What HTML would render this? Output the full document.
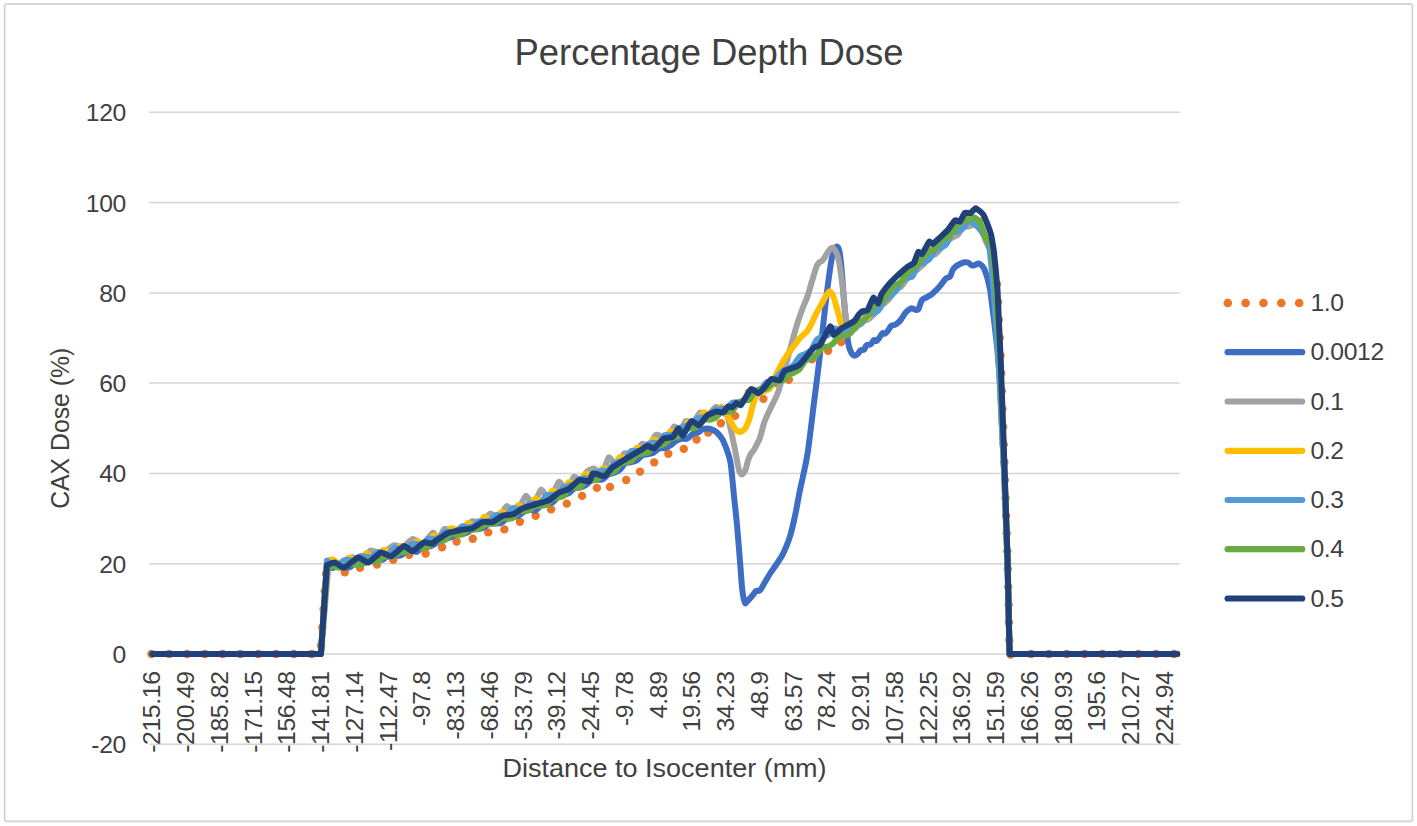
<!DOCTYPE html>
<html><head><meta charset="utf-8"><title>Percentage Depth Dose</title>
<style>html,body{margin:0;padding:0;background:#fff;}svg{display:block;}text{font-family:"Liberation Sans",sans-serif;fill:#404040;}</style></head>
<body>
<svg width="1417" height="826" viewBox="0 0 1417 826">
<rect x="0" y="0" width="1417" height="826" fill="#ffffff"/>
<rect x="4.6" y="4.2" width="1407.8" height="817.2" rx="1.8" ry="1.8" fill="#fff" stroke="#d2d2d2" stroke-width="1.7"/>
<line x1="149.2" y1="112.3" x2="1179.6" y2="112.3" stroke="#d4d4d4" stroke-width="1.5"/>
<line x1="149.2" y1="202.6" x2="1179.6" y2="202.6" stroke="#d4d4d4" stroke-width="1.5"/>
<line x1="149.2" y1="292.9" x2="1179.6" y2="292.9" stroke="#d4d4d4" stroke-width="1.5"/>
<line x1="149.2" y1="383.1" x2="1179.6" y2="383.1" stroke="#d4d4d4" stroke-width="1.5"/>
<line x1="149.2" y1="473.4" x2="1179.6" y2="473.4" stroke="#d4d4d4" stroke-width="1.5"/>
<line x1="149.2" y1="563.7" x2="1179.6" y2="563.7" stroke="#d4d4d4" stroke-width="1.5"/>
<line x1="149.2" y1="654.0" x2="1179.6" y2="654.0" stroke="#d4d4d4" stroke-width="1.5"/>
<line x1="149.2" y1="744.3" x2="1179.6" y2="744.3" stroke="#d4d4d4" stroke-width="1.5"/>
<text x="709" y="64.8" font-size="36.6" fill="#3a3a3a" text-anchor="middle" textLength="389" lengthAdjust="spacingAndGlyphs">Percentage Depth Dose</text>
<text x="126.0" y="121.2" font-size="24.7" letter-spacing="-0.3" text-anchor="end">120</text>
<text x="126.0" y="211.5" font-size="24.7" letter-spacing="-0.3" text-anchor="end">100</text>
<text x="126.0" y="301.8" font-size="24.7" letter-spacing="-0.3" text-anchor="end">80</text>
<text x="126.0" y="392.0" font-size="24.7" letter-spacing="-0.3" text-anchor="end">60</text>
<text x="126.0" y="482.3" font-size="24.7" letter-spacing="-0.3" text-anchor="end">40</text>
<text x="126.0" y="572.6" font-size="24.7" letter-spacing="-0.3" text-anchor="end">20</text>
<text x="126.0" y="662.9" font-size="24.7" letter-spacing="-0.3" text-anchor="end">0</text>
<text x="126.0" y="753.2" font-size="24.7" letter-spacing="-0.3" text-anchor="end">-20</text>
<text transform="translate(160.3 671.4) rotate(-90)" font-size="24.7" letter-spacing="-0.33" text-anchor="end">-215.16</text>
<text transform="translate(194.1 671.4) rotate(-90)" font-size="24.7" letter-spacing="-0.33" text-anchor="end">-200.49</text>
<text transform="translate(227.8 671.4) rotate(-90)" font-size="24.7" letter-spacing="-0.33" text-anchor="end">-185.82</text>
<text transform="translate(261.6 671.4) rotate(-90)" font-size="24.7" letter-spacing="-0.33" text-anchor="end">-171.15</text>
<text transform="translate(295.3 671.4) rotate(-90)" font-size="24.7" letter-spacing="-0.33" text-anchor="end">-156.48</text>
<text transform="translate(329.1 671.4) rotate(-90)" font-size="24.7" letter-spacing="-0.33" text-anchor="end">-141.81</text>
<text transform="translate(362.8 671.4) rotate(-90)" font-size="24.7" letter-spacing="-0.33" text-anchor="end">-127.14</text>
<text transform="translate(396.6 671.4) rotate(-90)" font-size="24.7" letter-spacing="-0.33" text-anchor="end">-112.47</text>
<text transform="translate(430.3 671.4) rotate(-90)" font-size="24.7" letter-spacing="-0.33" text-anchor="end">-97.8</text>
<text transform="translate(464.1 671.4) rotate(-90)" font-size="24.7" letter-spacing="-0.33" text-anchor="end">-83.13</text>
<text transform="translate(497.8 671.4) rotate(-90)" font-size="24.7" letter-spacing="-0.33" text-anchor="end">-68.46</text>
<text transform="translate(531.6 671.4) rotate(-90)" font-size="24.7" letter-spacing="-0.33" text-anchor="end">-53.79</text>
<text transform="translate(565.4 671.4) rotate(-90)" font-size="24.7" letter-spacing="-0.33" text-anchor="end">-39.12</text>
<text transform="translate(599.1 671.4) rotate(-90)" font-size="24.7" letter-spacing="-0.33" text-anchor="end">-24.45</text>
<text transform="translate(632.9 671.4) rotate(-90)" font-size="24.7" letter-spacing="-0.33" text-anchor="end">-9.78</text>
<text transform="translate(666.6 671.4) rotate(-90)" font-size="24.7" letter-spacing="-0.33" text-anchor="end">4.89</text>
<text transform="translate(700.4 671.4) rotate(-90)" font-size="24.7" letter-spacing="-0.33" text-anchor="end">19.56</text>
<text transform="translate(734.1 671.4) rotate(-90)" font-size="24.7" letter-spacing="-0.33" text-anchor="end">34.23</text>
<text transform="translate(767.9 671.4) rotate(-90)" font-size="24.7" letter-spacing="-0.33" text-anchor="end">48.9</text>
<text transform="translate(801.6 671.4) rotate(-90)" font-size="24.7" letter-spacing="-0.33" text-anchor="end">63.57</text>
<text transform="translate(835.4 671.4) rotate(-90)" font-size="24.7" letter-spacing="-0.33" text-anchor="end">78.24</text>
<text transform="translate(869.1 671.4) rotate(-90)" font-size="24.7" letter-spacing="-0.33" text-anchor="end">92.91</text>
<text transform="translate(902.9 671.4) rotate(-90)" font-size="24.7" letter-spacing="-0.33" text-anchor="end">107.58</text>
<text transform="translate(936.6 671.4) rotate(-90)" font-size="24.7" letter-spacing="-0.33" text-anchor="end">122.25</text>
<text transform="translate(970.4 671.4) rotate(-90)" font-size="24.7" letter-spacing="-0.33" text-anchor="end">136.92</text>
<text transform="translate(1004.1 671.4) rotate(-90)" font-size="24.7" letter-spacing="-0.33" text-anchor="end">151.59</text>
<text transform="translate(1037.9 671.4) rotate(-90)" font-size="24.7" letter-spacing="-0.33" text-anchor="end">166.26</text>
<text transform="translate(1071.6 671.4) rotate(-90)" font-size="24.7" letter-spacing="-0.33" text-anchor="end">180.93</text>
<text transform="translate(1105.4 671.4) rotate(-90)" font-size="24.7" letter-spacing="-0.33" text-anchor="end">195.6</text>
<text transform="translate(1139.1 671.4) rotate(-90)" font-size="24.7" letter-spacing="-0.33" text-anchor="end">210.27</text>
<text transform="translate(1172.9 671.4) rotate(-90)" font-size="24.7" letter-spacing="-0.33" text-anchor="end">224.94</text>
<text x="664.6" y="777" font-size="25.4" text-anchor="middle" textLength="324" lengthAdjust="spacingAndGlyphs">Distance to Isocenter (mm)</text>
<text transform="translate(69.0 428.3) rotate(-90)" font-size="25.4" text-anchor="middle" textLength="161" lengthAdjust="spacingAndGlyphs">CAX Dose (%)</text>
<g fill="#EC7628"><circle cx="151.4" cy="654.0" r="4.20"/><circle cx="169.2" cy="654.0" r="4.20"/><circle cx="187.0" cy="654.0" r="4.20"/><circle cx="204.8" cy="654.0" r="4.20"/><circle cx="222.6" cy="654.0" r="4.20"/><circle cx="240.4" cy="654.0" r="4.20"/><circle cx="258.2" cy="654.0" r="4.20"/><circle cx="276.0" cy="654.0" r="4.20"/><circle cx="293.8" cy="654.0" r="4.20"/><circle cx="311.6" cy="654.0" r="4.20"/><circle cx="321.1" cy="645.5" r="4.20"/><circle cx="322.3" cy="627.4" r="4.20"/><circle cx="323.6" cy="609.3" r="4.20"/><circle cx="324.8" cy="591.2" r="4.20"/><circle cx="326.0" cy="573.9" r="4.20"/><circle cx="344.8" cy="572.4" r="4.20"/><circle cx="360.0" cy="567.8" r="4.20"/><circle cx="377.0" cy="564.6" r="4.20"/><circle cx="393.2" cy="559.9" r="4.20"/><circle cx="409.1" cy="554.8" r="4.20"/><circle cx="425.6" cy="553.5" r="4.20"/><circle cx="442.1" cy="547.3" r="4.20"/><circle cx="456.6" cy="541.5" r="4.20"/><circle cx="472.8" cy="538.7" r="4.20"/><circle cx="488.2" cy="532.4" r="4.20"/><circle cx="504.4" cy="529.4" r="4.20"/><circle cx="519.9" cy="521.8" r="4.20"/><circle cx="535.6" cy="515.8" r="4.20"/><circle cx="551.1" cy="509.4" r="4.20"/><circle cx="566.8" cy="503.6" r="4.20"/><circle cx="582.1" cy="495.9" r="4.20"/><circle cx="596.9" cy="487.9" r="4.20"/><circle cx="610.0" cy="486.9" r="4.20"/><circle cx="626.2" cy="480.0" r="4.20"/><circle cx="640.0" cy="471.6" r="4.20"/><circle cx="654.2" cy="462.4" r="4.20"/><circle cx="668.3" cy="453.7" r="4.20"/><circle cx="683.8" cy="448.9" r="4.20"/><circle cx="696.6" cy="439.5" r="4.20"/><circle cx="708.2" cy="432.6" r="4.20"/><circle cx="720.9" cy="423.2" r="4.20"/><circle cx="735.1" cy="415.9" r="4.20"/><circle cx="749.0" cy="392.5" r="4.20"/><circle cx="763.4" cy="398.9" r="4.20"/><circle cx="776.0" cy="383.0" r="4.20"/><circle cx="788.9" cy="379.7" r="4.20"/><circle cx="800.0" cy="363.5" r="4.20"/><circle cx="812.1" cy="359.4" r="4.20"/><circle cx="828.1" cy="350.7" r="4.20"/><circle cx="841.2" cy="342.0" r="4.20"/><circle cx="854.0" cy="324.6" r="4.20"/><circle cx="866.5" cy="313.9" r="4.20"/><circle cx="879.0" cy="301.3" r="4.20"/><circle cx="891.5" cy="287.8" r="4.20"/><circle cx="904.0" cy="275.1" r="4.20"/><circle cx="916.5" cy="262.5" r="4.20"/><circle cx="929.0" cy="250.7" r="4.20"/><circle cx="941.5" cy="239.9" r="4.20"/><circle cx="954.0" cy="229.1" r="4.20"/><circle cx="966.5" cy="219.9" r="4.20"/><circle cx="979.0" cy="221.5" r="4.20"/><circle cx="1009.3" cy="640.3" r="4.20"/><circle cx="1008.9" cy="622.5" r="4.20"/><circle cx="1008.6" cy="604.7" r="4.20"/><circle cx="1008.2" cy="586.9" r="4.20"/><circle cx="1007.8" cy="569.1" r="4.20"/><circle cx="1007.3" cy="551.3" r="4.20"/><circle cx="1006.7" cy="533.5" r="4.20"/><circle cx="1006.1" cy="515.7" r="4.20"/><circle cx="1005.5" cy="497.9" r="4.20"/><circle cx="1004.9" cy="480.1" r="4.20"/><circle cx="1004.3" cy="462.3" r="4.20"/><circle cx="1003.7" cy="444.5" r="4.20"/><circle cx="1003.1" cy="426.7" r="4.20"/><circle cx="1002.4" cy="408.9" r="4.20"/><circle cx="1001.8" cy="391.1" r="4.20"/><circle cx="1001.2" cy="373.3" r="4.20"/><circle cx="1000.5" cy="355.5" r="4.20"/><circle cx="999.7" cy="337.7" r="4.20"/><circle cx="998.9" cy="319.9" r="4.20"/><circle cx="998.1" cy="302.1" r="4.20"/><circle cx="997.0" cy="284.3" r="4.20"/><circle cx="1010.6" cy="654.6" r="4.20"/><circle cx="1031.0" cy="654.0" r="4.20"/><circle cx="1048.9" cy="654.0" r="4.20"/><circle cx="1066.7" cy="654.0" r="4.20"/><circle cx="1084.6" cy="654.0" r="4.20"/><circle cx="1102.5" cy="654.0" r="4.20"/><circle cx="1120.3" cy="654.0" r="4.20"/><circle cx="1138.2" cy="654.0" r="4.20"/><circle cx="1156.1" cy="654.0" r="4.20"/><circle cx="1174.0" cy="654.0" r="4.20"/></g>
<path d="M152.3 654.0L320.9 654.0L326.9 566.5C327.8 566.7 330.6 568.3 332.5 568.1C334.4 567.9 336.3 565.4 338.1 565.2C340.0 564.9 341.9 566.2 343.8 566.6C345.7 567.0 347.5 568.0 349.4 567.4C351.3 566.9 353.2 564.0 355.0 563.3C356.9 562.6 358.8 563.6 360.7 563.5C362.5 563.3 364.4 563.2 366.3 562.4C368.2 561.6 370.1 559.1 371.9 558.6C373.8 558.1 375.7 559.2 377.6 559.4C379.4 559.5 381.3 560.3 383.2 559.5C385.1 558.7 386.9 555.3 388.8 554.6C390.7 553.9 392.6 555.1 394.5 555.3C396.3 555.5 398.2 556.2 400.1 555.7C402.0 555.1 403.8 552.9 405.7 551.9C407.6 551.0 409.5 549.8 411.3 549.8C413.2 549.8 415.1 552.4 417.0 551.9C418.9 551.3 420.7 547.4 422.6 546.6C424.5 545.8 426.4 547.2 428.2 546.9C430.1 546.6 432.0 545.7 433.9 544.7C435.8 543.6 437.6 541.3 439.5 540.4C441.4 539.5 443.3 539.6 445.1 539.0C447.0 538.5 448.9 538.1 450.8 537.3C452.6 536.5 454.5 534.8 456.4 534.3C458.3 533.8 460.2 534.4 462.0 534.1C463.9 533.8 465.8 533.3 467.7 532.4C469.5 531.5 471.4 529.2 473.3 528.6C475.2 528.1 477.0 529.4 478.9 529.1C480.8 528.9 482.7 528.3 484.6 527.2C486.4 526.1 488.3 523.0 490.2 522.4C492.1 521.7 493.9 523.4 495.8 523.5C497.7 523.5 499.6 523.7 501.4 522.8C503.3 522.0 505.2 519.4 507.1 518.5C509.0 517.5 510.8 517.4 512.7 516.9C514.6 516.5 516.5 516.7 518.3 515.8C520.2 515.0 522.1 512.8 524.0 511.8C525.8 510.8 527.7 509.9 529.6 509.7C531.5 509.5 533.4 511.3 535.2 510.6C537.1 509.9 539.0 506.9 540.9 505.7C542.7 504.4 544.6 503.6 546.5 503.1C548.4 502.7 550.3 503.8 552.1 502.9C554.0 501.9 555.9 498.6 557.8 497.2C559.6 495.9 561.5 495.4 563.4 494.8C565.3 494.1 567.1 494.3 569.0 493.2C570.9 492.1 572.8 489.1 574.7 488.2C576.5 487.2 578.4 488.1 580.3 487.5C582.2 487.0 584.0 486.1 585.9 484.9C587.8 483.7 589.7 481.0 591.5 480.2C593.4 479.3 595.3 480.0 597.2 479.8C599.1 479.7 600.9 480.1 602.8 479.2C604.7 478.3 606.6 475.6 608.4 474.5C610.3 473.5 612.2 473.6 614.1 472.8C615.9 472.0 617.8 471.3 619.7 469.8C621.6 468.2 623.5 464.6 625.3 463.3C627.2 462.1 629.1 462.8 631.0 462.3C632.8 461.8 634.7 461.6 636.6 460.5C638.5 459.3 640.3 456.4 642.2 455.3C644.1 454.3 646.0 454.6 647.9 454.1C649.7 453.7 651.6 453.6 653.5 452.7C655.4 451.8 657.2 449.3 659.1 448.5C661.0 447.8 662.9 448.7 664.8 448.2C666.6 447.6 668.5 446.6 670.4 445.4C672.3 444.1 674.1 441.9 676.0 440.8C677.9 439.7 679.8 439.1 681.6 438.7C683.5 438.4 685.4 439.4 687.3 438.6C689.2 437.8 691.0 434.9 692.9 433.9C694.8 432.8 697.1 433.0 698.5 432.3C700.0 431.6 700.2 430.3 701.7 429.7C703.2 429.1 705.8 428.6 707.5 428.6C709.2 428.6 710.5 429.1 712.0 429.6C713.5 430.2 714.9 430.8 716.2 431.9C717.5 433.0 718.8 434.4 720.0 436.0C721.2 437.6 722.2 438.6 723.5 441.4C724.8 444.2 726.7 449.1 727.9 453.0C729.1 456.9 729.8 457.4 730.8 464.6C731.8 471.8 733.0 485.9 734.0 496.0C735.0 506.1 736.0 514.3 737.0 525.0C738.0 535.7 739.0 549.3 739.9 560.0C740.8 570.7 741.4 581.9 742.2 589.0C743.0 596.1 743.9 600.6 744.8 602.6C745.7 604.6 746.1 602.3 747.5 601.0C748.9 599.7 751.5 596.7 752.9 595.0C754.3 593.3 754.8 591.8 756.0 591.0C757.2 590.2 758.7 591.7 760.2 590.2C761.7 588.7 763.3 584.9 765.0 582.0C766.7 579.1 768.6 575.8 770.4 573.0C772.2 570.2 774.1 567.9 776.0 565.0C777.9 562.1 780.2 558.9 782.0 555.7C783.8 552.5 785.0 549.6 786.5 546.0C788.0 542.4 789.3 539.0 790.7 534.0C792.1 529.0 793.5 522.8 795.0 516.0C796.5 509.2 798.0 500.0 799.4 493.0C800.8 486.0 802.1 480.8 803.5 474.0C804.9 467.2 806.1 463.4 807.8 452.0C809.5 440.6 811.7 421.3 813.6 405.9C815.5 390.5 817.5 375.9 819.4 359.4C821.3 342.9 823.3 323.1 825.2 307.0C827.1 290.9 829.5 272.1 831.0 262.7C832.5 253.3 833.5 253.2 834.5 250.5C835.5 247.8 836.4 246.3 837.2 246.6C838.1 246.8 838.8 247.4 839.6 252.0C840.4 256.6 841.3 265.7 842.0 273.9C842.7 282.1 843.4 293.9 844.0 301.3C844.6 308.7 844.9 311.3 845.6 318.0C846.3 324.7 847.2 336.2 848.0 341.7C848.8 347.2 849.5 348.7 850.5 351.0C851.5 353.3 852.7 355.1 853.9 355.6C855.1 356.1 856.4 355.1 857.5 354.2C858.6 353.3 859.6 351.0 860.7 350.2C861.8 349.4 863.0 350.4 864.0 349.6C865.0 348.8 865.4 346.1 866.5 345.2C867.6 344.3 869.5 345.1 870.8 344.2C872.0 343.3 873.0 340.5 874.0 340.0C875.0 339.5 875.6 341.4 876.5 341.0C877.4 340.6 878.3 339.1 879.3 337.8C880.3 336.5 881.5 333.9 882.5 333.2C883.5 332.5 884.2 334.1 885.2 333.6C886.2 333.1 887.3 331.5 888.3 330.2C889.3 328.9 890.0 326.9 891.0 326.0C892.0 325.1 893.4 325.5 894.6 325.0C895.8 324.5 897.0 323.7 898.0 322.8C899.0 321.9 900.0 320.8 900.9 319.6C901.8 318.4 902.8 316.8 903.6 315.6C904.5 314.4 904.8 313.4 906.0 312.2C907.2 311.0 909.5 308.7 911.0 308.3C912.5 307.9 913.8 309.5 915.0 309.6C916.2 309.8 917.1 310.8 918.3 309.2C919.4 307.6 920.6 302.2 921.9 300.3C923.2 298.4 924.4 298.6 926.0 297.6C927.6 296.6 929.7 295.7 931.4 294.5C933.1 293.3 934.5 291.6 936.0 290.2C937.5 288.8 938.5 287.8 940.1 285.8C941.8 283.9 944.2 280.0 945.9 278.5C947.5 277.0 948.9 277.9 950.0 276.6C951.1 275.3 951.7 272.1 952.5 270.5C953.3 268.9 953.8 268.1 955.0 267.1C956.2 266.1 957.9 265.1 959.5 264.3C961.1 263.5 963.3 262.6 964.7 262.3C966.1 262.0 966.8 262.1 968.0 262.6C969.2 263.1 970.8 265.1 972.0 265.5C973.2 265.9 974.1 265.1 975.2 264.8C976.3 264.5 977.5 263.5 978.5 263.6C979.5 263.7 980.5 264.3 981.5 265.2C982.5 266.1 983.4 267.3 984.2 268.9C985.0 270.5 985.8 273.2 986.4 275.0C987.0 276.8 987.2 277.1 987.8 279.6C988.4 282.1 989.8 288.3 990.2 290.0L993.8 318.0L997.4 349.4L999.8 380.0L1004.0 470.0L1007.4 560.0L1009.5 654.0L1177.2 654.0" fill="none" stroke="#3D6DC4" stroke-width="6.0" stroke-linecap="round" stroke-linejoin="round"/>
<path d="M152.3 654.0L320.9 654.0L328.9 560.3C330.0 560.9 338.1 566.4 340.4 566.1C342.6 565.8 349.7 557.9 351.8 557.3C353.9 556.7 359.4 560.3 361.3 559.6C363.2 558.9 368.7 551.1 370.8 550.5C372.9 549.9 380.0 553.9 382.2 553.4C384.5 552.9 391.6 546.0 393.7 545.4C395.8 544.8 401.3 547.7 403.2 547.1C405.1 546.4 410.7 539.3 412.7 539.0C414.7 538.7 420.9 544.4 422.9 543.8C424.9 543.2 431.5 533.1 433.1 532.7C434.7 532.3 437.7 539.7 438.8 539.3C439.9 539.0 442.5 529.7 444.5 528.9C446.5 528.1 455.7 531.8 458.4 531.1C461.2 530.3 470.1 522.0 472.4 521.2C474.7 520.4 479.5 524.1 481.3 523.3C483.1 522.5 488.5 514.0 490.2 513.6C491.9 513.2 496.8 519.7 498.4 518.9C500.1 518.2 504.9 506.6 506.7 506.0C508.5 505.4 514.3 513.9 516.2 512.9C518.2 511.8 524.1 496.5 525.8 495.8C527.5 495.1 531.9 506.1 533.4 505.5C534.9 504.8 539.4 490.0 541.0 489.5C542.6 489.0 548.1 500.7 549.9 500.0C551.7 499.2 557.1 482.9 558.8 481.9C560.5 480.9 564.9 490.9 566.5 490.3C568.0 489.8 572.7 477.8 574.1 476.8C575.5 475.8 579.2 481.2 580.5 480.7C581.7 480.2 585.4 472.9 586.8 471.7C588.2 470.5 592.9 468.2 594.4 468.6C595.9 469.0 600.1 477.1 601.5 476.0C603.0 474.8 607.2 458.6 608.7 457.5C610.2 456.4 615.0 465.7 616.5 465.3C618.1 464.9 622.7 454.3 624.4 453.3C626.1 452.3 631.6 455.9 633.3 454.9C635.1 454.0 640.8 444.5 642.3 443.7C643.8 442.9 647.4 447.3 648.6 446.6C649.9 445.8 654.1 437.1 655.0 435.9C655.9 434.7 657.0 434.7 658.1 435.0C659.2 435.3 664.6 439.5 666.2 438.6C667.9 437.7 673.0 427.1 674.4 426.4C675.8 425.7 678.9 431.9 680.0 431.4C681.2 430.9 684.4 422.1 685.7 421.2C687.0 420.3 691.5 423.2 693.0 422.4C694.4 421.5 698.7 413.2 700.2 412.5C701.7 411.8 706.6 416.0 708.2 415.4C709.8 414.8 714.5 406.8 716.2 406.7C717.9 406.6 724.1 413.2 725.3 414.2C726.5 415.2 727.4 414.9 727.9 416.5C728.4 418.1 730.3 427.3 730.8 429.7C731.3 432.1 732.6 438.0 733.0 440.0C733.4 442.0 734.5 447.1 735.1 450.0C735.7 452.9 738.0 466.5 738.7 469.0C739.4 471.5 741.0 474.5 741.7 474.6C742.4 474.7 744.6 471.9 745.3 470.4C745.9 468.9 747.6 461.7 748.2 460.0C748.8 458.3 750.4 454.6 751.0 453.6C751.6 452.6 753.4 451.0 754.0 450.0C754.6 449.0 756.4 445.1 757.0 444.0C757.6 442.9 759.1 440.6 759.8 438.5C760.5 436.4 763.2 425.4 764.2 422.5C765.2 419.6 769.0 411.6 770.0 409.4C771.0 407.2 773.4 402.6 774.3 400.7C775.2 398.8 777.8 393.0 778.7 390.4C779.6 387.8 782.1 378.1 783.0 375.0C783.9 371.9 786.5 362.5 787.4 359.4C788.2 356.3 790.6 347.2 791.5 344.0C792.4 340.8 795.1 330.9 796.1 327.5C797.1 324.1 800.8 313.2 802.0 310.0C803.2 306.8 806.8 298.4 807.8 295.5C808.8 292.6 811.1 283.9 812.0 281.0C812.9 278.1 815.8 268.4 816.5 266.5C817.2 264.6 818.9 262.8 819.5 262.2C820.1 261.6 821.7 261.3 822.3 260.7C822.9 260.1 824.9 256.9 825.5 256.0C826.1 255.1 827.5 252.7 828.0 252.0C828.5 251.3 830.0 249.0 830.5 248.6C831.0 248.2 832.2 247.6 832.7 247.8C833.2 248.0 834.7 249.5 835.3 250.6C835.9 251.7 837.8 256.5 838.3 258.5C838.8 260.5 840.1 268.2 840.5 271.0C840.9 273.8 842.2 283.6 842.6 286.8C843.0 290.0 844.1 299.8 844.4 303.0C844.7 306.2 845.6 316.2 846.0 318.8C846.4 321.4 847.5 327.7 848.0 329.0C848.5 330.3 850.2 331.6 851.0 331.5C851.8 331.4 855.1 328.9 856.2 327.9C857.3 326.8 860.7 321.5 861.8 320.7C863.0 319.9 866.3 320.3 867.5 319.7C868.6 319.2 872.0 316.3 873.1 315.2C874.2 314.0 877.6 309.6 878.7 308.4C879.9 307.2 883.2 304.3 884.4 303.2C885.5 302.2 888.9 299.3 890.0 297.9C891.1 296.6 894.5 290.9 895.6 289.7C896.8 288.6 900.1 287.7 901.3 286.6C902.4 285.5 905.8 280.0 906.9 278.7C908.0 277.4 911.4 274.2 912.5 273.2C913.6 272.2 917.0 269.8 918.2 268.9C919.3 267.9 922.7 265.3 923.8 264.0C924.9 262.7 928.3 256.8 929.4 255.8C930.5 254.9 933.9 255.1 935.0 254.4C936.2 253.7 939.6 249.8 940.7 248.5C941.8 247.3 945.2 243.1 946.3 242.0C947.4 241.0 950.8 238.5 951.9 237.8C953.1 237.1 956.4 236.0 957.6 235.0C958.7 234.0 962.1 228.5 963.2 227.7C964.3 226.8 967.7 226.6 968.8 226.3C970.0 226.0 973.3 224.4 974.5 224.5C975.6 224.6 979.0 225.5 980.1 227.1C981.2 228.8 985.2 239.8 985.7 241.2L991.0 250.0L994.4 290.0L999.3 360.0L1004.2 470.0L1007.5 560.0L1009.6 654.0L1177.2 654.0" fill="none" stroke="#A2A2A2" stroke-width="6.0" stroke-linecap="round" stroke-linejoin="round"/>
<path d="M152.3 654.0L320.9 654.0L326.9 564.8C327.4 564.2 331.4 559.4 332.5 559.2C333.6 559.1 337.0 562.8 338.1 563.1C339.3 563.4 342.6 562.4 343.8 561.9C344.9 561.3 348.3 557.7 349.4 557.6C350.5 557.5 353.9 560.8 355.0 561.0C356.2 561.2 359.5 560.0 360.7 559.2C361.8 558.4 365.2 553.4 366.3 553.1C367.4 552.9 370.8 556.4 371.9 556.6C373.1 556.9 376.4 556.3 377.6 555.6C378.7 554.9 382.1 550.4 383.2 550.0C384.3 549.5 387.7 551.2 388.8 551.3C390.0 551.5 393.3 552.1 394.5 551.5C395.6 551.0 399.0 546.5 400.1 546.1C401.2 545.6 404.6 547.2 405.7 547.3C406.8 547.3 410.2 547.5 411.3 546.9C412.5 546.3 415.9 541.7 417.0 541.3C418.1 541.0 421.5 543.3 422.6 543.3C423.7 543.3 427.1 542.5 428.2 541.7C429.4 540.9 432.7 536.0 433.9 535.5C435.0 535.0 438.4 536.7 439.5 536.5C440.6 536.4 444.0 535.2 445.1 534.4C446.3 533.5 449.6 528.8 450.8 528.3C451.9 527.8 455.3 529.4 456.4 529.5C457.5 529.7 460.9 530.4 462.0 529.7C463.2 529.1 466.5 523.5 467.7 523.1C468.8 522.7 472.2 525.7 473.3 525.8C474.4 526.0 477.8 525.4 478.9 524.5C480.0 523.6 483.4 517.1 484.6 516.6C485.7 516.2 489.1 519.7 490.2 519.7C491.3 519.8 494.7 518.0 495.8 517.2C496.9 516.5 500.3 512.5 501.4 512.1C502.6 511.8 506.0 513.8 507.1 513.7C508.2 513.6 511.6 512.1 512.7 511.2C513.8 510.4 517.2 505.2 518.3 504.9C519.5 504.6 522.8 507.9 524.0 508.0C525.1 508.0 528.5 506.2 529.6 505.2C530.7 504.3 534.1 498.9 535.2 498.6C536.4 498.2 539.7 501.5 540.9 501.6C542.0 501.7 545.4 500.8 546.5 499.8C547.6 498.7 551.0 491.6 552.1 490.9C553.3 490.2 556.6 492.9 557.8 492.9C558.9 492.9 562.3 491.7 563.4 490.6C564.5 489.5 567.9 482.6 569.0 482.0C570.1 481.3 573.5 484.1 574.7 483.9C575.8 483.8 579.2 481.6 580.3 480.6C581.4 479.6 584.8 474.0 585.9 473.7C587.0 473.3 590.4 476.8 591.5 476.9C592.7 477.0 596.0 475.2 597.2 474.3C598.3 473.5 601.7 468.7 602.8 468.2C603.9 467.7 607.3 469.4 608.4 469.3C609.6 469.2 612.9 468.4 614.1 467.2C615.2 466.0 618.6 458.0 619.7 457.1C620.8 456.3 624.2 458.9 625.3 458.6C626.5 458.4 629.8 455.9 631.0 454.9C632.1 453.8 635.5 448.4 636.6 447.8C637.7 447.2 641.1 448.9 642.2 448.8C643.4 448.7 646.7 447.4 647.9 446.5C649.0 445.5 652.4 439.9 653.5 439.4C654.6 438.9 658.0 441.4 659.1 441.3C660.2 441.2 663.6 439.9 664.8 438.9C665.9 437.9 669.3 431.9 670.4 431.3C671.5 430.6 674.9 432.2 676.0 432.1C677.1 432.0 680.5 431.2 681.6 430.2C682.8 429.2 686.1 422.8 687.3 422.2C688.4 421.6 691.8 424.7 692.9 424.5C694.0 424.2 697.4 421.0 698.5 419.8C699.7 418.6 703.0 412.6 704.2 412.2C705.3 411.9 708.7 416.2 709.8 416.4C710.9 416.6 714.3 415.1 715.4 414.1C716.6 413.1 719.8 406.1 721.1 406.4C722.3 406.6 726.9 415.2 727.9 416.7C728.9 418.2 730.2 420.5 730.8 421.5C731.4 422.5 733.1 425.9 733.7 426.8C734.3 427.7 736.0 429.9 736.6 430.4C737.2 430.9 738.9 431.8 739.5 431.9C740.1 432.0 741.8 431.4 742.4 431.0C743.0 430.6 744.8 429.0 745.3 428.3C745.8 427.6 747.2 424.6 747.6 423.6C748.0 422.6 749.1 419.8 749.6 418.1C750.1 416.4 751.9 408.6 752.5 406.5C753.1 404.4 754.9 398.2 755.5 396.8C756.1 395.4 757.8 393.0 758.5 392.5C759.2 392.0 762.1 391.8 763.0 391.5C763.9 391.2 766.3 390.1 767.0 389.8C767.7 389.5 769.1 389.9 770.0 388.5C770.9 387.1 774.3 378.5 775.5 376.0C776.7 373.5 780.6 365.7 781.6 363.8C782.6 361.9 785.1 357.9 786.0 356.6C786.9 355.3 789.4 351.8 790.3 350.7C791.1 349.6 793.6 346.4 794.5 345.2C795.4 344.0 798.1 340.1 799.0 339.0C799.9 337.9 802.6 335.5 803.5 334.6C804.4 333.7 806.9 331.6 807.8 330.4C808.6 329.2 811.1 324.3 812.0 322.6C812.9 320.9 815.7 314.5 816.5 313.0C817.3 311.5 819.0 308.2 819.6 307.2C820.2 306.2 821.7 303.9 822.3 302.8C822.9 301.7 825.3 296.9 826.0 295.8C826.7 294.7 828.8 291.5 829.5 291.4C830.2 291.3 832.0 293.5 832.6 294.6C833.2 295.7 834.8 301.2 835.3 302.8C835.8 304.4 837.2 308.9 837.6 310.5C838.0 312.1 839.2 316.9 839.7 318.8C840.2 320.7 842.0 328.0 842.6 329.4C843.2 330.8 845.2 333.1 846.0 333.0C846.8 332.9 849.6 329.1 850.6 328.2C851.6 327.3 855.1 324.5 856.2 323.8C857.3 323.1 860.7 321.7 861.8 321.1C863.0 320.5 866.3 318.8 867.5 317.8C868.6 316.8 872.0 312.2 873.1 311.0C874.2 309.8 877.6 306.6 878.7 305.6C879.9 304.6 883.2 302.0 884.4 300.8C885.5 299.5 888.9 294.6 890.0 293.3C891.1 292.0 894.5 288.7 895.6 287.6C896.8 286.4 900.1 283.0 901.3 281.8C902.4 280.6 905.8 276.5 906.9 275.4C908.0 274.3 911.4 271.8 912.5 270.8C913.6 269.9 917.0 267.1 918.2 265.9C919.3 264.6 922.7 259.7 923.8 258.6C924.9 257.5 928.3 255.7 929.4 254.8C930.5 253.9 933.9 250.9 935.0 249.8C936.2 248.6 939.6 244.1 940.7 243.2C941.8 242.2 945.2 241.5 946.3 240.7C947.4 239.9 950.8 236.2 951.9 235.1C953.1 234.0 956.4 230.3 957.6 229.4C958.7 228.5 962.1 227.2 963.2 226.5C964.3 225.8 967.7 223.1 968.8 222.5C970.0 222.0 973.3 220.4 974.5 220.7C975.6 221.0 979.0 223.7 980.1 225.6C981.2 227.5 985.2 238.5 985.7 239.9L990.8 252.0L994.2 290.0L999.0 360.0L1004.1 470.0L1007.5 560.0L1009.6 654.0L1177.2 654.0" fill="none" stroke="#FFBF00" stroke-width="6.0" stroke-linecap="round" stroke-linejoin="round"/>
<path d="M152.3 654.0L320.9 654.0L326.9 560.7C327.4 561.1 331.4 564.4 332.5 564.9C333.6 565.3 337.0 565.1 338.1 564.7C339.3 564.3 342.6 561.1 343.8 560.6C344.9 560.1 348.3 559.8 349.4 560.1C350.5 560.3 353.9 563.5 355.0 563.1C356.2 562.7 359.5 556.6 360.7 556.0C361.8 555.4 365.2 556.9 366.3 557.0C367.4 557.1 370.8 557.6 371.9 557.1C373.1 556.6 376.4 552.4 377.6 552.1C378.7 551.8 382.1 554.0 383.2 554.2C384.3 554.4 387.7 554.5 388.8 553.8C390.0 553.1 393.3 547.9 394.5 547.5C395.6 547.1 399.0 549.6 400.1 549.8C401.2 550.1 404.6 550.7 405.7 550.1C406.8 549.6 410.2 544.9 411.3 544.3C412.5 543.7 415.9 544.0 417.0 544.0C418.1 544.1 421.5 545.3 422.6 544.8C423.7 544.2 427.1 539.0 428.2 538.5C429.4 537.9 432.7 539.3 433.9 539.2C435.0 539.1 438.4 538.1 439.5 537.4C440.6 536.7 444.0 532.3 445.1 531.8C446.3 531.2 449.6 532.1 450.8 532.0C451.9 532.0 455.3 532.1 456.4 531.5C457.5 530.9 460.9 526.6 462.0 526.2C463.2 525.8 466.5 527.5 467.7 527.5C468.8 527.5 472.2 527.1 473.3 526.5C474.4 525.9 477.8 521.8 478.9 521.3C480.0 520.8 483.4 521.5 484.6 521.4C485.7 521.3 489.1 520.9 490.2 520.3C491.3 519.6 494.7 515.4 495.8 515.0C496.9 514.6 500.3 516.1 501.4 516.1C502.6 516.1 506.0 515.6 507.1 514.8C508.2 514.0 511.6 508.6 512.7 508.1C513.8 507.5 517.2 509.2 518.3 509.2C519.5 509.2 522.8 508.5 524.0 507.9C525.1 507.3 528.5 503.9 529.6 503.5C530.7 503.0 534.1 503.5 535.2 503.5C536.4 503.4 539.7 504.1 540.9 503.2C542.0 502.4 545.4 496.0 546.5 495.2C547.6 494.4 551.0 495.3 552.1 495.2C553.3 495.1 556.6 494.8 557.8 494.1C558.9 493.3 562.3 488.3 563.4 487.5C564.5 486.7 567.9 486.1 569.0 485.8C570.1 485.5 573.5 484.9 574.7 484.2C575.8 483.5 579.2 479.7 580.3 479.1C581.4 478.5 584.8 478.4 585.9 478.3C587.0 478.3 590.4 479.2 591.5 478.6C592.7 478.0 596.0 472.9 597.2 472.1C598.3 471.3 601.7 470.8 602.8 470.6C603.9 470.4 607.3 471.0 608.4 470.3C609.6 469.6 612.9 464.4 614.1 463.6C615.2 462.7 618.6 461.8 619.7 461.5C620.8 461.1 624.2 461.1 625.3 460.1C626.5 459.1 629.8 452.0 631.0 451.1C632.1 450.2 635.5 451.2 636.6 451.2C637.7 451.1 641.1 451.6 642.2 450.9C643.4 450.2 646.7 445.1 647.9 444.3C649.0 443.5 652.4 442.8 653.5 442.7C654.6 442.6 658.0 443.9 659.1 443.2C660.2 442.4 663.6 435.9 664.8 435.1C665.9 434.4 669.3 435.5 670.4 435.4C671.5 435.2 674.9 434.8 676.0 434.0C677.1 433.2 680.5 428.2 681.6 427.4C682.8 426.5 686.1 425.5 687.3 425.2C688.4 425.0 691.8 425.7 692.9 425.0C694.0 424.2 697.4 418.4 698.5 417.7C699.7 416.9 703.0 417.7 704.2 417.6C705.3 417.5 708.7 417.4 709.8 416.6C710.9 415.9 714.3 410.6 715.4 409.8C716.6 409.1 719.9 409.0 721.1 408.8C722.2 408.7 725.6 409.1 726.7 408.5C727.8 407.9 731.2 403.6 732.3 402.9C733.5 402.3 736.8 402.4 738.0 402.2C739.1 402.0 742.5 402.0 743.6 401.0C744.7 400.1 748.1 393.5 749.2 392.4C750.3 391.4 753.7 391.1 754.8 390.9C756.0 390.7 759.4 391.0 760.5 390.2C761.6 389.3 765.0 383.5 766.1 382.6C767.2 381.6 770.6 381.5 771.7 380.9C772.9 380.3 776.2 377.9 777.4 376.8C778.5 375.8 781.9 371.4 783.0 370.7C784.1 369.9 787.5 369.8 788.6 369.2C789.8 368.6 793.1 365.6 794.3 364.4C795.4 363.1 798.8 357.3 799.9 356.3C801.0 355.2 804.4 354.6 805.5 354.0C806.7 353.4 810.0 351.4 811.2 349.9C812.3 348.5 815.7 340.9 816.8 339.6C817.9 338.3 821.3 336.9 822.4 336.5C823.5 336.0 826.9 335.9 828.1 335.1C829.2 334.3 832.6 328.8 833.7 328.3C834.8 327.8 838.2 329.6 839.3 330.0C840.4 330.4 843.8 332.3 844.9 331.8C846.1 331.4 849.5 326.2 850.6 325.5C851.7 324.9 855.1 325.6 856.2 325.4C857.3 325.2 860.7 324.3 861.8 323.3C863.0 322.3 866.3 316.4 867.5 315.4C868.6 314.4 872.0 313.9 873.1 313.3C874.2 312.8 877.6 311.3 878.7 310.0C879.9 308.7 883.2 301.8 884.4 300.4C885.5 298.9 888.9 296.8 890.0 295.9C891.1 295.0 894.5 292.5 895.6 291.1C896.8 289.7 900.1 282.9 901.3 281.6C902.4 280.3 905.8 278.5 906.9 278.0C908.0 277.4 911.4 277.5 912.5 276.2C913.6 274.9 917.0 266.3 918.2 265.0C919.3 263.6 922.7 263.3 923.8 262.7C924.9 262.1 928.3 260.4 929.4 259.1C930.5 257.9 933.9 251.5 935.0 250.3C936.2 249.2 939.6 248.3 940.7 247.7C941.8 247.1 945.2 245.7 946.3 244.2C947.4 242.8 950.8 234.5 951.9 233.2C953.1 232.0 956.4 232.2 957.6 231.7C958.7 231.1 962.1 228.9 963.2 227.9C964.3 226.9 967.7 222.0 968.8 221.7C970.0 221.3 973.3 223.2 974.5 224.0C975.6 224.8 979.0 228.2 980.1 229.6C981.2 230.9 985.2 237.0 985.7 237.8L989.8 250.0L993.6 290.0L998.6 360.0L1004.0 470.0L1007.4 560.0L1009.6 654.0L1177.2 654.0" fill="none" stroke="#529BD8" stroke-width="6.0" stroke-linecap="round" stroke-linejoin="round"/>
<path d="M152.3 654.0L320.9 654.0L326.9 568.8C327.4 568.5 331.4 566.1 332.5 566.0C333.6 565.9 337.0 567.4 338.1 567.6C339.3 567.8 342.6 568.2 343.8 567.9C344.9 567.5 348.3 564.4 349.4 564.0C350.5 563.7 353.9 564.4 355.0 564.5C356.2 564.6 359.5 565.6 360.7 565.1C361.8 564.7 365.2 560.3 366.3 560.0C367.4 559.6 370.8 561.2 371.9 561.4C373.1 561.5 376.4 561.8 377.6 561.4C378.7 560.9 382.1 557.3 383.2 556.8C384.3 556.4 387.7 556.9 388.8 556.8C390.0 556.7 393.3 555.8 394.5 555.4C395.6 555.0 399.0 553.0 400.1 552.6C401.2 552.3 404.6 552.0 405.7 551.8C406.8 551.7 410.2 551.3 411.3 550.9C412.5 550.6 415.9 548.5 417.0 548.1C418.1 547.8 421.5 547.7 422.6 547.5C423.7 547.4 427.1 547.2 428.2 546.6C429.4 545.9 432.7 541.8 433.9 541.3C435.0 540.8 438.4 542.0 439.5 541.8C440.6 541.7 444.0 540.7 445.1 539.9C446.3 539.2 449.6 534.8 450.8 534.2C451.9 533.7 455.3 534.5 456.4 534.6C457.5 534.6 460.9 535.1 462.0 534.6C463.2 534.2 466.5 530.5 467.7 530.0C468.8 529.5 472.2 530.0 473.3 529.8C474.4 529.7 477.8 529.1 478.9 528.6C480.0 528.1 483.4 525.2 484.6 524.8C485.7 524.3 489.1 524.2 490.2 524.1C491.3 523.9 494.7 523.8 495.8 523.2C496.9 522.6 500.3 518.6 501.4 518.1C502.6 517.7 506.0 518.7 507.1 518.7C508.2 518.7 511.6 518.8 512.7 518.0C513.8 517.3 517.2 512.1 518.3 511.4C519.5 510.7 522.8 511.2 524.0 511.1C525.1 510.9 528.5 510.7 529.6 510.2C530.7 509.6 534.1 506.2 535.2 505.8C536.4 505.3 539.7 506.0 540.9 505.9C542.0 505.8 545.4 505.6 546.5 504.9C547.6 504.2 551.0 499.8 552.1 499.0C553.3 498.3 556.6 497.8 557.8 497.5C558.9 497.2 562.3 497.0 563.4 496.1C564.5 495.2 567.9 489.4 569.0 488.5C570.1 487.7 573.5 487.6 574.7 487.5C575.8 487.4 579.2 488.2 580.3 487.4C581.4 486.7 584.8 480.8 585.9 480.1C587.0 479.4 590.4 480.7 591.5 480.7C592.7 480.6 596.0 480.2 597.2 479.6C598.3 479.0 601.7 475.2 602.8 474.5C603.9 473.9 607.3 473.2 608.4 472.9C609.6 472.6 612.9 472.6 614.1 471.7C615.2 470.9 618.6 465.4 619.7 464.5C620.8 463.6 624.2 462.8 625.3 462.5C626.5 462.1 629.8 461.9 631.0 461.2C632.1 460.4 635.5 455.5 636.6 454.7C637.7 454.0 641.1 454.1 642.2 453.9C643.4 453.6 646.7 453.1 647.9 452.4C649.0 451.7 652.4 447.5 653.5 446.8C654.6 446.2 658.0 446.1 659.1 445.8C660.2 445.5 663.6 444.8 664.8 444.0C665.9 443.3 669.3 439.1 670.4 438.5C671.5 437.8 674.9 437.7 676.0 437.3C677.1 436.9 680.5 435.7 681.6 434.9C682.8 434.0 686.1 429.2 687.3 428.5C688.4 427.8 691.8 428.4 692.9 428.1C694.0 427.9 697.4 426.6 698.5 425.8C699.7 424.9 703.0 419.9 704.2 419.3C705.3 418.7 708.7 419.9 709.8 419.7C710.9 419.6 714.3 418.7 715.4 417.9C716.6 417.2 719.9 413.1 721.1 412.5C722.2 411.9 725.6 411.9 726.7 411.8C727.8 411.7 731.2 412.0 732.3 411.1C733.5 410.2 736.8 404.0 738.0 402.9C739.1 401.9 742.5 400.6 743.6 400.3C744.7 400.0 748.1 400.7 749.2 399.9C750.3 399.0 753.7 393.1 754.8 392.0C756.0 390.9 759.4 389.2 760.5 388.9C761.6 388.6 765.0 389.2 766.1 388.7C767.2 388.3 770.6 385.0 771.7 384.2C772.9 383.5 776.2 381.6 777.4 381.2C778.5 380.8 781.9 381.0 783.0 380.3C784.1 379.7 787.5 375.6 788.6 374.9C789.8 374.1 793.1 373.1 794.3 372.5C795.4 371.8 798.8 369.8 799.9 368.6C801.0 367.4 804.4 361.6 805.5 360.6C806.7 359.6 810.0 359.4 811.2 358.8C812.3 358.1 815.7 355.5 816.8 354.4C817.9 353.2 821.3 347.9 822.4 347.1C823.5 346.3 826.9 347.0 828.1 346.6C829.2 346.1 832.6 344.0 833.7 342.9C834.8 341.9 838.2 336.7 839.3 336.0C840.4 335.3 843.8 336.1 844.9 335.8C846.1 335.5 849.5 334.2 850.6 333.1C851.7 332.1 855.1 326.7 856.2 325.5C857.3 324.3 860.7 321.8 861.8 320.9C863.0 319.9 866.3 317.5 867.5 316.1C868.6 314.7 872.0 308.3 873.1 307.0C874.2 305.8 877.6 304.4 878.7 303.6C879.9 302.9 883.2 300.7 884.4 299.4C885.5 298.1 888.9 292.1 890.0 290.6C891.1 289.2 894.5 286.1 895.6 285.2C896.8 284.4 900.1 283.0 901.3 281.8C902.4 280.5 905.8 274.3 906.9 273.0C908.0 271.7 911.4 269.7 912.5 268.8C913.6 267.8 917.0 264.6 918.2 263.4C919.3 262.2 922.7 257.7 923.8 256.5C924.9 255.3 928.3 252.4 929.4 251.6C930.5 250.8 933.9 249.5 935.0 248.4C936.2 247.3 939.6 241.8 940.7 240.7C941.8 239.6 945.2 238.3 946.3 237.6C947.4 236.8 950.8 234.7 951.9 233.4C953.1 232.1 956.4 225.7 957.6 224.5C958.7 223.3 962.1 221.8 963.2 221.4C964.3 220.9 967.7 220.2 968.8 219.9C970.0 219.5 973.3 217.2 974.5 217.5C975.6 217.8 979.0 220.6 980.1 222.7C981.2 224.8 985.2 236.7 985.7 238.2L991.9 246.0L995.8 290.0L1000.2 360.0L1004.5 470.0L1007.6 560.0L1009.6 654.0L1177.2 654.0" fill="none" stroke="#6AAB41" stroke-width="6.0" stroke-linecap="round" stroke-linejoin="round"/>
<path d="M152.3 654.0L320.9 654.0L326.9 565.1C327.5 564.9 333.9 562.4 335.2 562.6C336.5 562.8 342.4 568.1 344.1 567.7C345.8 567.3 356.3 557.9 358.1 557.5C359.9 557.1 366.6 563.0 368.3 562.6C370.0 562.2 379.3 552.9 381.0 552.4C382.7 551.9 389.4 556.8 391.1 556.3C392.8 555.8 402.2 546.5 403.8 546.1C405.4 545.7 411.2 551.5 412.7 551.2C414.2 550.9 422.8 542.9 424.2 542.3C425.6 541.7 430.1 544.2 431.8 543.5C433.5 542.8 444.8 534.4 447.0 533.4C449.2 532.4 460.4 530.0 462.3 529.6C464.2 529.2 470.9 528.9 472.4 528.3C473.9 527.7 481.1 522.5 482.6 522.0C484.1 521.5 491.3 522.5 492.8 522.0C494.3 521.5 501.4 516.2 502.9 515.6C504.4 515.0 511.6 514.9 513.1 514.3C514.6 513.7 521.6 508.7 523.3 508.0C525.0 507.3 534.1 504.8 536.0 504.2C537.9 503.6 547.0 501.2 548.7 500.4C550.4 499.6 557.3 493.5 558.8 492.7C560.3 491.9 567.5 489.8 569.0 488.9C570.5 488.0 577.6 480.6 579.1 480.0C580.6 479.4 588.3 481.8 589.3 481.3C590.3 480.8 592.0 473.8 593.1 473.4C594.2 473.0 603.2 476.6 604.6 476.2C606.0 475.8 610.7 468.8 612.2 467.6C613.7 466.4 622.9 460.8 624.9 459.5C626.9 458.2 638.4 451.4 640.1 450.4C641.8 449.4 646.9 445.8 647.9 445.7C648.9 445.6 652.6 449.1 653.8 448.6C655.0 448.1 662.5 439.4 663.9 438.5C665.3 437.6 671.5 437.7 672.6 437.0C673.7 436.3 677.8 428.4 678.5 428.3C679.2 428.2 681.8 436.0 682.8 435.5C683.8 435.0 690.3 421.7 691.5 421.0C692.7 420.3 697.6 425.8 698.8 425.4C700.0 425.0 706.2 416.2 707.5 415.2C708.8 414.2 715.0 411.8 716.2 411.6C717.4 411.4 722.6 412.7 723.5 412.3C724.4 411.9 727.3 406.9 727.9 406.5C728.5 406.1 731.6 407.5 732.2 407.2C732.8 406.9 736.0 403.1 736.6 402.9C737.2 402.7 739.8 406.0 740.9 405.0C742.0 404.0 749.8 390.0 751.1 389.1C752.4 388.2 757.4 393.5 758.4 393.4C759.4 393.3 763.2 388.7 764.2 387.6C765.2 386.5 770.2 379.4 771.4 378.9C772.6 378.4 779.0 380.9 780.0 380.3C781.0 379.7 783.1 372.1 784.5 371.0C785.9 369.9 796.9 366.9 799.0 365.2C801.1 363.5 812.1 349.3 813.6 347.8C815.1 346.3 818.8 346.6 820.0 345.0C821.2 343.4 829.2 327.1 830.2 326.4C831.2 325.7 832.7 334.8 833.6 334.9C834.5 335.0 840.5 329.1 842.0 328.1C843.5 327.1 852.7 322.4 853.9 321.4C855.1 320.4 858.1 315.5 858.7 314.8C859.3 314.1 861.8 311.5 862.4 311.2C863.0 310.9 866.6 311.5 867.4 310.5C868.2 309.5 872.5 298.2 873.3 297.7C874.1 297.2 877.7 303.7 878.3 303.5C878.9 303.3 880.5 295.9 881.3 294.5C882.1 293.1 888.0 285.3 889.2 283.9C890.4 282.5 896.6 276.4 898.0 275.1C899.4 273.8 906.9 267.3 908.1 266.4C909.3 265.5 913.3 263.9 914.0 262.8C914.7 261.7 917.7 252.5 918.3 251.9C918.9 251.3 921.2 254.8 922.0 254.1C922.8 253.4 928.4 242.4 929.2 241.7C930.0 241.0 932.0 244.2 932.8 243.9C933.6 243.6 939.0 238.4 940.1 237.4C941.2 236.4 946.7 231.3 947.8 230.0C948.9 228.7 954.2 220.9 955.1 220.3C956.0 219.7 959.3 222.0 960.0 221.5C960.7 221.0 964.0 213.6 964.8 213.0C965.6 212.4 970.0 213.4 970.8 213.0C971.6 212.6 974.8 208.1 975.7 208.2C976.6 208.3 982.1 213.0 983.0 214.2C983.9 215.4 987.2 223.5 987.8 225.1C988.4 226.7 991.0 234.1 991.4 236.0C991.8 237.9 993.6 249.4 993.8 250.5L995.7 268.7L997.5 290.0L1000.7 360.0L1004.6 470.0L1007.6 560.0L1009.6 654.0L1177.2 654.0" fill="none" stroke="#20407A" stroke-width="6.0" stroke-linecap="round" stroke-linejoin="round"/>
<circle cx="1227.8" cy="303.0" r="4.3" fill="#EC7628"/>
<circle cx="1245.6" cy="303.0" r="4.3" fill="#EC7628"/>
<circle cx="1263.5" cy="303.0" r="4.3" fill="#EC7628"/>
<circle cx="1281.3" cy="303.0" r="4.3" fill="#EC7628"/>
<circle cx="1299.2" cy="303.0" r="4.3" fill="#EC7628"/>
<text x="1310.4" y="311.1" font-size="24.7" letter-spacing="-0.33">1.0</text>
<line x1="1227.6" y1="352.2" x2="1302.2" y2="352.2" stroke="#3D6DC4" stroke-width="6.2" stroke-linecap="round"/>
<text x="1310.4" y="360.4" font-size="24.7" letter-spacing="-0.33">0.0012</text>
<line x1="1227.6" y1="401.5" x2="1302.2" y2="401.5" stroke="#A2A2A2" stroke-width="6.2" stroke-linecap="round"/>
<text x="1310.4" y="409.6" font-size="24.7" letter-spacing="-0.33">0.1</text>
<line x1="1227.6" y1="450.8" x2="1302.2" y2="450.8" stroke="#FFBF00" stroke-width="6.2" stroke-linecap="round"/>
<text x="1310.4" y="458.9" font-size="24.7" letter-spacing="-0.33">0.2</text>
<line x1="1227.6" y1="500.0" x2="1302.2" y2="500.0" stroke="#529BD8" stroke-width="6.2" stroke-linecap="round"/>
<text x="1310.4" y="508.1" font-size="24.7" letter-spacing="-0.33">0.3</text>
<line x1="1227.6" y1="549.2" x2="1302.2" y2="549.2" stroke="#6AAB41" stroke-width="6.2" stroke-linecap="round"/>
<text x="1310.4" y="557.4" font-size="24.7" letter-spacing="-0.33">0.4</text>
<line x1="1227.6" y1="598.5" x2="1302.2" y2="598.5" stroke="#20407A" stroke-width="6.2" stroke-linecap="round"/>
<text x="1310.4" y="606.6" font-size="24.7" letter-spacing="-0.33">0.5</text>
</svg></body></html>
